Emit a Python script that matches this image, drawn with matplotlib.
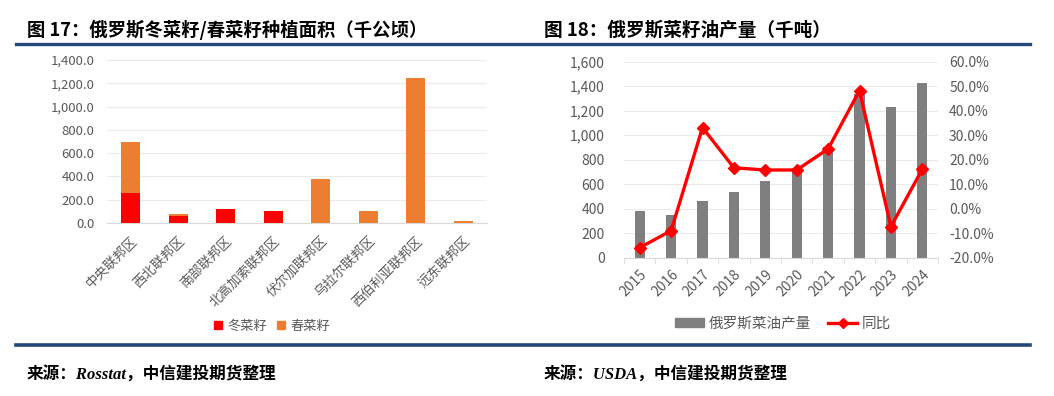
import matplotlib
matplotlib.use("Agg")
import matplotlib.pyplot as plt
from matplotlib.lines import Line2D
from matplotlib.patches import Patch
from matplotlib.ticker import FuncFormatter, MultipleLocator
import numpy as np

plt.rcParams['font.family'] = ['Noto Sans CJK SC', 'DejaVu Sans']
plt.rcParams['axes.unicode_minus'] = False

# ---- data: left chart ----
regions = ["中央联邦区", "西北联邦区", "南部联邦区", "北高加索联邦区",
           "伏尔加联邦区", "乌拉尔联邦区", "西伯利亚联邦区", "远东联邦区"]
winter = [260, 60, 118, 103, 0, 0, 0, 0]
spring = [433, 17, 0, 0, 381, 106, 1246, 17]

# ---- data: right chart ----
years = ["2015", "2016", "2017", "2018", "2019", "2020", "2021", "2022", "2023", "2024"]
production = [384, 349, 463, 539, 629, 720, 900, 1334, 1233, 1429]
yoy = [-0.159, -0.090, 0.331, 0.167, 0.158, 0.158, 0.244, 0.482, -0.073, 0.161]

W, H = 1054, 396
fig = plt.figure(figsize=(W / 100, H / 100), dpi=100)
fig.patch.set_facecolor("white")

RED = "#FF0000"
ORANGE = "#ED7D31"
GRAY = "#7F7F7F"
TICKC = "#595959"
GRID = "#EBEBEB"
BLUE = "#24487A"

def fx(px):
    return px / W

def fy(py):
    return 1 - py / H

# ---------------- left chart ----------------
axL = fig.add_axes([fx(107), fy(223), fx(487) - fx(107), fy(60) - fy(223)])
xL = np.arange(len(regions))
axL.bar(xL, winter, width=0.4, color=RED, zorder=3)
axL.bar(xL, spring, width=0.4, bottom=winter, color=ORANGE, zorder=3)
axL.set_xlim(-0.5, len(regions) - 0.5)
axL.set_ylim(0, 1400)
axL.yaxis.set_major_locator(MultipleLocator(200))
axL.yaxis.set_major_formatter(FuncFormatter(lambda v, p: f"{v:,.1f}"))
axL.grid(axis="y", color=GRID, linewidth=0.8, zorder=0)
for s in ["top", "right", "left"]:
    axL.spines[s].set_visible(False)
axL.spines["bottom"].set_color("#D9D9D9")
axL.tick_params(axis="y", length=0, labelsize=9.5, labelcolor=TICKC, pad=9)
axL.tick_params(axis="x", length=0, labelsize=9.5, labelcolor=TICKC, pad=8)
axL.set_xticks(xL)
axL.set_xticklabels(regions, rotation=45, ha="right", va="top", rotation_mode="anchor")

fig.legend(handles=[Patch(color=RED, label="冬菜籽"), Patch(color=ORANGE, label="春菜籽")],
           loc="center", bbox_to_anchor=(fx(272), fy(326)), ncol=2, frameon=False,
           fontsize=9.5, handlelength=0.6, handleheight=0.6, handletextpad=0.4,
           columnspacing=0.8, labelcolor=TICKC)

# ---------------- right chart ----------------
axR = fig.add_axes([fx(624), fy(257.7), fx(938) - fx(624), fy(61.7) - fy(257.7)])
xR = np.arange(len(years))
axR.bar(xR, production, width=0.32, color=GRAY, zorder=2)
axR.set_xlim(-0.5, len(years) - 0.5)
axR.set_ylim(0, 1600)
axR.yaxis.set_major_locator(MultipleLocator(200))
axR.yaxis.set_major_formatter(FuncFormatter(lambda v, p: f"{v:,.0f}"))
axR.grid(axis="y", color=GRID, linewidth=0.8, zorder=0)
for s in ["top", "right", "left"]:
    axR.spines[s].set_visible(False)
axR.spines["bottom"].set_color("#D9D9D9")
axR.set_xticks(xR)
axR.set_xticklabels(years, rotation=45, ha="right", va="top", rotation_mode="anchor")
axR.set_xticks(np.arange(-0.5, len(years), 1.0), minor=True)
axR.tick_params(axis="x", which="major", length=0, labelsize=10, labelcolor=TICKC, pad=7)
axR.tick_params(axis="x", which="minor", length=4, color="#D9D9D9")
axR.tick_params(axis="y", length=0, labelsize=10, labelcolor=TICKC, pad=14)

axR2 = axR.twinx()
axR2.plot(xR, yoy, color=RED, linewidth=2.4, marker="D", markersize=6.5, zorder=4)
axR2.set_ylim(-0.2, 0.6)
axR2.yaxis.set_major_locator(MultipleLocator(0.1))
axR2.yaxis.set_major_formatter(FuncFormatter(lambda v, p: f"{v * 100:.1f}%"))
for s in ["top", "right", "left", "bottom"]:
    axR2.spines[s].set_visible(False)
axR2.tick_params(axis="y", length=0, labelsize=10, labelcolor=TICKC, pad=8)

fig.legend(handles=[Patch(color=GRAY, label="俄罗斯菜油产量"),
                    Line2D([], [], color=RED, linewidth=2.4, marker="D", markersize=5.5, label="同比")],
           loc="center", bbox_to_anchor=(fx(783), fy(324)), ncol=2, frameon=False,
           fontsize=10.5, handlelength=2.0, handleheight=0.6, handletextpad=0.3,
           columnspacing=1.2, labelcolor=TICKC)

# ---------------- titles, rules, sources ----------------
fig.text(fx(27), fy(30), "图 17：俄罗斯冬菜籽/春菜籽种植面积（千公顷）", fontsize=13.2,
         fontweight="bold", ha="left", va="center", color="black")
fig.text(fx(544), fy(30), "图 18：俄罗斯菜籽油产量（千吨）", fontsize=13.4,
         fontweight="bold", ha="left", va="center", color="black")

fig.add_artist(Line2D([fx(16), fx(1030)], [fy(44), fy(44)], color=BLUE, linewidth=2.4))
fig.add_artist(Line2D([fx(16), fx(1030)], [fy(345), fy(345)], color=BLUE, linewidth=2.6))

src_font = ['Liberation Serif', 'Noto Sans CJK SC']
fig.text(fx(27), fy(375), "来源：Rosstat，中信建投期货整理", fontsize=12,
         fontweight="bold", fontstyle="italic", family=src_font,
         ha="left", va="center", color="black")
fig.text(fx(544), fy(375), "来源：USDA，中信建投期货整理", fontsize=12,
         fontweight="bold", fontstyle="italic", family=src_font,
         ha="left", va="center", color="black")

fig.savefig("out.png", dpi=100, facecolor="white")
